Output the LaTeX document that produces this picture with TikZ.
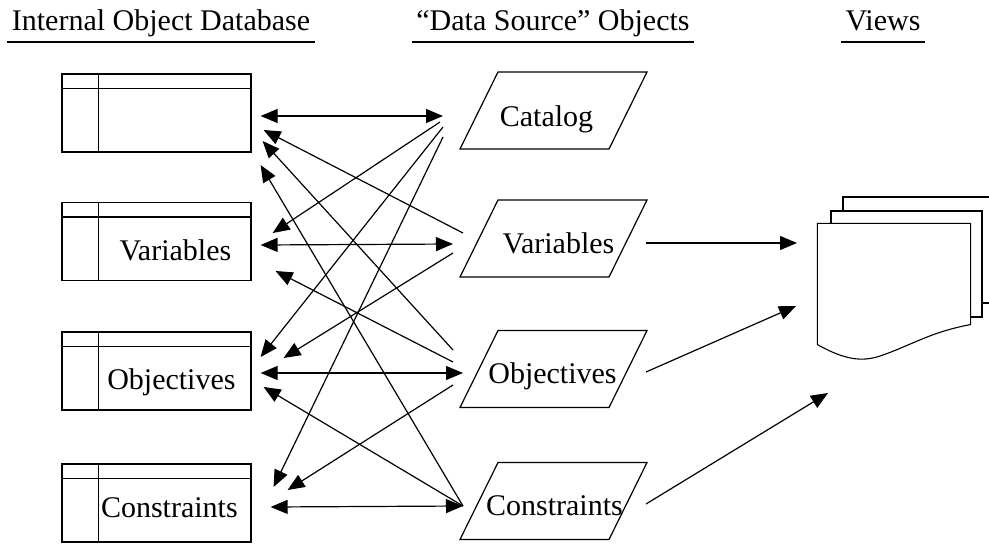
\documentclass[tikz,border=0pt]{standalone}
\usepackage{fontspec}
\setmainfont{Liberation Serif}
\usetikzlibrary{arrows.meta,calc}

\begin{document}
\begin{tikzpicture}[x=1pt,y=-1pt,
  line width=1.2pt,
  tipstyle/.style={arrows={-Triangle[length=17pt,width=14pt]}},
  bothtips/.style={arrows={Triangle[length=17pt,width=14pt]-Triangle[length=17pt,width=14pt]}},
  txt/.style={font=\fontsize{30}{36}\selectfont, inner sep=0pt, anchor=base},
  head/.style={font=\fontsize{30}{36}\selectfont, inner ysep=0pt, inner xsep=4pt, anchor=base},
  tbl/.style={draw, minimum width=189pt, minimum height=78pt, inner sep=0pt},
  dsrc/.style={minimum width=187pt, minimum height=77pt, inner sep=0pt},
  page/.style={draw, fill=white, line width=1.1pt}
]
\useasboundingbox (0,0) rectangle (989,544);
\clip (0,0) rectangle (989,544);

% column headings
\node[head] (h1) at (161,30) {Internal Object Database};
\node[head] (h2) at (553,30) {“Data Source” Objects};
\node[head] (h3) at (883,30) {Views};
\foreach \h in {h1,h2,h3}
  \draw[line width=1.1pt] ($(\h.base west)+(0,12)$) -- ($(\h.base east)+(0,12)$);

% internal object database tables
\node[tbl] (t1) at (156.5,113) {};
\node[tbl] (t2) at (156.5,241.5) {};
\node[tbl] (t3) at (156.5,371) {};
\node[tbl] (t4) at (156.5,503) {};
\foreach \t in {t1,t2,t3,t4} {
  \draw ($(\t.north west)+(0,15)$) -- ($(\t.north east)+(0,15)$);
  \draw ($(\t.north west)+(37,0)$) -- ($(\t.south west)+(37,0)$);
}
\node[txt] (t2l) at ($(t2.north west)+(114,59)$) {Variables};
\node[txt] (t3l) at ($(t3.north west)+(110,58)$) {Objectives};
\node[txt] (t4l) at ($(t4.north west)+(108,54)$) {Constraints};

% data source objects
\node[dsrc] (cat) at (553.5,110.5) {};
\node[dsrc] (var) at (553.5,238.5) {};
\node[dsrc] (obj) at (553.5,369) {};
\node[dsrc] (con) at (553.5,501) {};
\foreach \n in {cat,var,obj,con}
  \draw ($(\n)+(-93.5,38.5)$) -- ($(\n)+(-55.5,-38.5)$) -- ($(\n)+(93.5,-38.5)$)
        -- ($(\n)+(55.5,38.5)$) -- cycle;
\node[txt] (catl) at ($(cat)+(-7,15.5)$) {Catalog};
\node[txt] (varl) at ($(var)+(5,14.5)$) {Variables};
\node[txt] (objl) at ($(obj)+(-1,14)$) {Objectives};
\node[txt] (conl) at ($(con)+(1,14)$) {Constraints};

% stacked view pages
\node[minimum width=152pt, minimum height=128pt, inner sep=0pt] (view) at (894,288) {};
\draw[page] (843,303) -- (843,197) -- (995,197) -- (995,303) -- cycle;
\draw[page] (831,317) -- (831,211) -- (982,211) -- (982,317) -- cycle;
\draw[page] ($(view.south west)+(0,-8)$) -- (view.north west) -- (view.north east)
  -- ($(view.south east)+(0,-28)$)
  .. controls (930,332) and (910,346) .. (880,356)
  .. controls (862,362) and (845,360) .. ($(view.south west)+(0,-8)$) -- cycle;

% catalog links
\draw[bothtips] ($(t1.east)+(9,3)$) -- ($(cat)+(-110.5,5.5)$);
\draw[tipstyle] ($(cat)+(-113.5,11.5)$) -- ($(t2.east)+(21,-8.5)$);
\draw[tipstyle] ($(cat)+(-110.5,16.5)$) -- ($(t3.east)+(9,-14)$);
\draw[tipstyle] ($(cat)+(-110.5,26.5)$) -- ($(t4.east)+(22,-16)$);

% variables links
\draw[tipstyle] ($(var)+(-90.5,-5.5)$) -- ($(t1.east)+(12,17)$);
\draw[bothtips] ($(t2.east)+(9,3.5)$) -- ($(var)+(-100.5,5.5)$);
\draw[tipstyle] ($(var)+(-100.5,14.5)$) -- ($(t3.east)+(32,-13)$);

% objectives links
\draw[tipstyle] ($(obj)+(-100.5,-19)$) -- ($(t1.east)+(11,28)$);
\draw[tipstyle] ($(obj)+(-100.5,-7)$) -- ($(t2.east)+(24,29.5)$);
\draw[bothtips] ($(t3.east)+(9,2)$) -- ($(obj)+(-90.5,4)$);
\draw[tipstyle] ($(obj)+(-100.5,16)$) -- ($(t4.east)+(36,-13)$);

% constraints links
\draw[tipstyle] ($(con)+(-90.5,5)$) -- ($(t1.east)+(9,52)$);
\draw[tipstyle] ($(con)+(-90.5,5)$) -- ($(t3.east)+(12,16)$);
\draw[bothtips] ($(t4.east)+(19,4)$) -- ($(con)+(-90.5,5)$);

% links to the views
\draw[tipstyle] ($(var)+(92.5,4.5)$) -- ($(view)+(-97,-45)$);
\draw[tipstyle] ($(obj)+(92.5,3)$) -- ($(view)+(-98,18)$);
\draw[tipstyle] ($(con)+(92.5,3)$) -- ($(view)+(-66,105)$);
\end{tikzpicture}
\end{document}
